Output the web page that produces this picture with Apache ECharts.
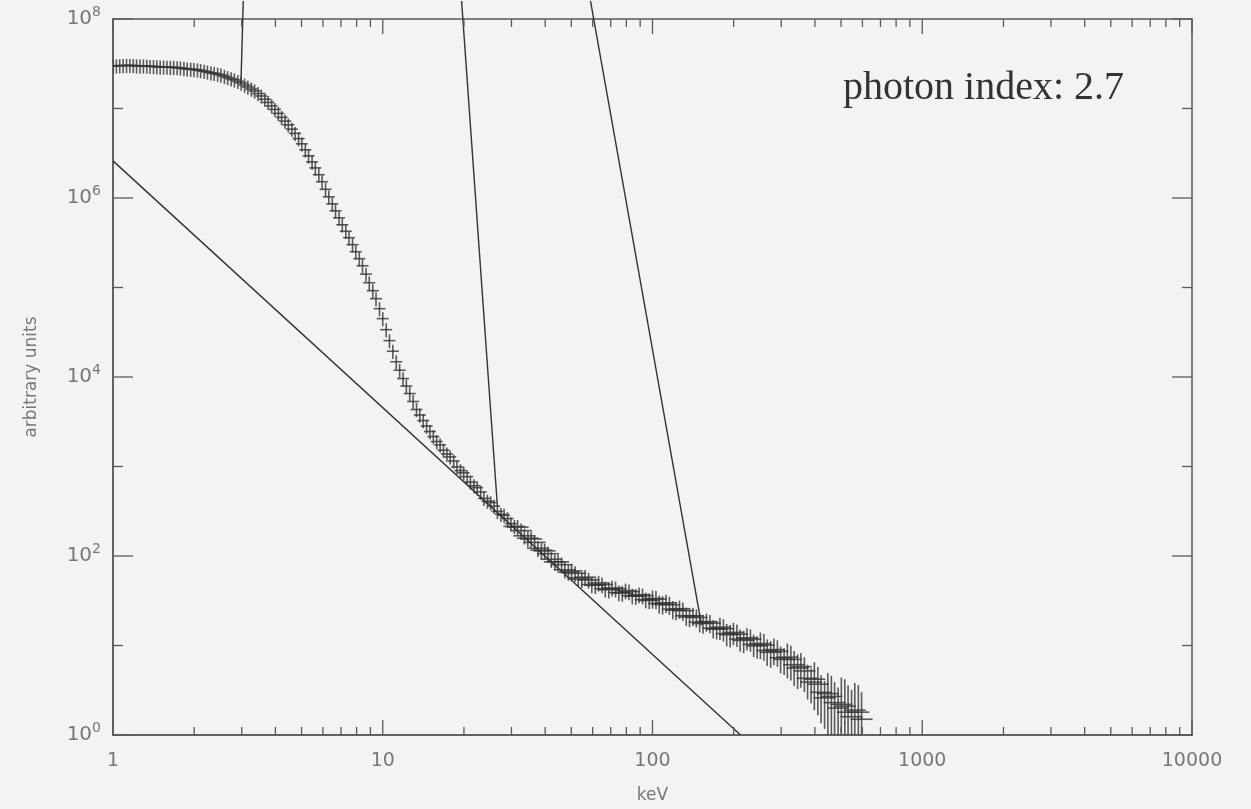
<!DOCTYPE html>
<html><head><meta charset="utf-8">
<script src="https://cdn.jsdelivr.net/npm/echarts@6/dist/echarts.min.js"></script>
<style>html,body{margin:0;padding:0;background:#f3f3f5}#c{width:1251px;height:809px}</style>
</head><body><div id="c"></div>
<script>
// energy bins (keV)
const energy = [
 1.000,1.029, 1.059,1.090, 1.122,1.155, 1.189,1.223, 1.259,1.296, 1.334,1.372,
 1.413,1.454, 1.496,1.540, 1.585,1.632, 1.679,1.729, 1.778,1.832, 1.884,1.941,
 1.995,2.056, 2.113,2.178, 2.239,2.307, 2.371,2.443, 2.512,2.588, 2.661,2.742,
 2.818,2.904, 2.985,3.076, 3.162,3.258, 3.350,3.451, 3.548,3.656, 3.758,3.873,
 3.981,4.102, 4.217,4.345, 4.467,4.603, 4.732,4.876, 5.012,5.164, 5.309,5.470,
 5.623,5.794, 5.957,6.138, 6.310,6.501, 6.683,6.887, 7.079,7.295, 7.499,7.727,
 7.943,8.185, 8.414,8.670, 8.913,9.183, 9.441,9.727, 10.00,10.30, 10.59,10.90,
 11.22,11.55, 11.89,12.23, 12.59,12.96, 13.34,13.72, 14.13,14.54, 14.96,15.40,
 15.85,16.32, 16.79,17.29, 17.78,18.32, 18.84,19.41, 19.95,20.56, 21.13,21.78,
 22.39,23.07, 23.71,24.43, 25.12,25.88, 26.61,27.42, 28.18,29.04, 29.85,30.76,
 31.62,32.58, 33.50,34.51, 35.48,36.56, 37.58,38.73, 39.81,41.02, 42.17,43.45,
 44.67,46.03, 47.32,48.76, 50.12,51.64, 53.09,54.70, 56.23,57.94, 59.57,61.38,
 63.10,65.01, 66.83,68.87, 70.79,72.95, 74.99,77.27, 79.43,81.85, 84.14,86.70,
 89.13,91.83, 94.41,97.27, 100.0,103.0, 105.9,109.0, 112.2,115.5, 118.9,122.3,
 125.9,129.6, 133.4,137.2, 141.3,145.4, 149.6,154.0, 158.5,163.2, 167.9,172.9,
 177.8,183.2, 188.4,194.1, 199.5,205.6, 211.3,217.8, 223.9,230.7, 237.1,244.3,
 251.2,258.8, 266.1,274.2, 281.8,290.4, 298.5,307.6, 316.2,325.8, 335.0,345.1,
 354.8,365.6, 375.8,387.3, 398.1,410.2, 421.7,434.5, 446.7,460.3, 473.2,487.6,
 501.2,516.4, 530.9,547.0, 562.3,579.4, 595.7
];
// spectrum (arbitrary units)
const flux = [
 2.99e7,3.00e7, 3.01e7,3.02e7, 3.03e7,3.03e7, 3.02e7,3.00e7, 2.99e7,2.99e7, 2.98e7,2.96e7,
 2.95e7,2.93e7, 2.91e7,2.91e7, 2.90e7,2.89e7, 2.88e7,2.86e7, 2.84e7,2.80e7, 2.77e7,2.75e7,
 2.73e7,2.70e7, 2.66e7,2.61e7, 2.56e7,2.51e7, 2.47e7,2.42e7, 2.37e7,2.29e7, 2.22e7,2.15e7,
 2.09e7,2.01e7, 1.93e7,1.83e7, 1.74e7,1.65e7, 1.57e7,1.47e7, 1.38e7,1.27e7, 1.17e7,1.07e7,
 9.77e6,8.82e6, 7.96e6,7.23e6, 6.56e6,5.88e6, 5.27e6,4.61e6, 4.03e6,3.45e6, 2.96e6,2.53e6,
 2.17e6,1.82e6, 1.52e6,1.25e6, 1.03e6,8.61e5, 7.19e5,6.01e5, 5.02e5,4.25e5, 3.60e5,3.01e5,
 2.51e5,2.10e5, 1.75e5,1.41e5, 1.13e5,9.21e4, 7.50e4,5.80e4, 4.49e4,3.38e4, 2.55e4,1.94e4,
 1.48e4,1.19e4, 9.60e3,7.92e3, 6.53e3,5.32e3, 4.33e3,3.76e3, 3.26e3,2.83e3, 2.46e3,2.16e3,
 1.90e3,1.74e3, 1.52e3,1.38e3, 1.28e3,1.15e3, 990,900, 850,770, 670,610,
 580,520, 440,410, 395,360, 315,292, 285,262, 230,214,
 210,192, 168,158, 155,142, 122,116, 114,106, 92,86,
 86,80, 70,66, 68,64, 57,55, 58,54, 48,47,
 50,48, 43,42, 44,43, 39,38.5, 41,40, 36,35.5,
 37,36, 32.5,31.8, 33.5,33, 29.5,28.8, 30,28.5, 25.5,24.8,
 25.8,24.5, 21.5,20.8, 21.5,20.6, 18.2,17.6, 18.5,17.8, 15.6,15.2,
 16.0,15.4, 13.6,13.2, 14.0,13.4, 11.8,11.4, 12.2,11.8, 10.3,9.9,
 10.5,10.1, 8.8,8.4, 9.0,8.6, 7.3,7.0, 7.4,7.0, 6.1,5.6,
 5.8,5.2, 4.3,3.9, 4.2,3.7, 3.0,2.6, 2.9,2.7, 2.3,2.0,
 2.2,2.1, 1.8,1.6, 1.9,1.8, 1.5
];
// fractional error of each point
const relErr = [
 0.18,0.18,0.18,0.18,0.18,0.18,0.18,0.18,0.18,0.18,0.18,0.18,
 0.18,0.18,0.18,0.18,0.18,0.18,0.18,0.18,0.18,0.18,0.18,0.18,
 0.18,0.18,0.18,0.18,0.18,0.18,0.18,0.18,0.18,0.18,0.18,0.18,
 0.18,0.18,0.18,0.18,0.18,0.18,0.18,0.18,0.18,0.18,0.18,0.18,
 0.18,0.18,0.18,0.18,0.18,0.18,0.18,0.18,0.18,0.18,0.18,0.18,
 0.18,0.18,0.18,0.18,0.18,0.18,0.18,0.18,0.18,0.18,0.18,0.18,
 0.18,0.18,0.18,0.18,0.18,0.18,0.18,0.18,0.18,0.18,0.18,0.18,
 0.18,0.18,0.18,0.18,0.18,0.18,0.18,0.18,0.18,0.18,0.18,0.18,
 0.18,0.18,0.18,0.18,0.18,0.18,0.18,0.18,0.18,0.18,0.18,0.18,
 0.18,0.18,0.18,0.18,0.18,0.18,0.18,0.18,0.18,0.18,0.18,0.18,
 0.2,0.2,0.2,0.2,0.2,0.2,0.2,0.2,0.2,0.2,0.2,0.2,
 0.2,0.2,0.2,0.2,0.2,0.2,0.2,0.2,0.2,0.2,0.2,0.2,
 0.2,0.2,0.2,0.2,0.2,0.2,0.2,0.2,0.2,0.2,0.2,0.2,
 0.2,0.2,0.2,0.2,
 0.23,0.23,0.23,0.23,0.23,0.23,0.23,0.23,0.23,0.23,0.23,0.23,
 0.23,0.23,0.23,0.23,0.23,0.23,0.23,0.23,
 0.28,0.28,0.28,0.28,0.28,0.28,0.28,0.28,0.28,0.28,0.28,0.28,
 0.33,0.33,0.33,0.33,0.33,0.33,0.33,0.33,
 0.42,0.42,0.42,0.42,0.42,0.42,0.42,0.42,
 0.55,0.55,0.55,0.55, 0.7,0.7,0.7,0.7,
 1.0,1.0,1.0,1.0,1.0,1.0,1.0
];
// power law, photon index 2.7
const powerLaw = [[1, 2.6e6], [212, 1]];
// pointer lines running off the top of the frame
const pointer1 = [[3.04, 1.59e8], [2.98, 1.88e7]];
const pointer2 = [[19.6, 1.59e8], [26.6, 367]];
const pointer3 = [[58.9, 1.59e8], [152, 16.8]];
// axis ticks
const xMajorTicks = [1, 10, 100, 1000, 10000];
const xMinorTicks = [2,3,4,5,6,7,8,9,20,30,40,50,60,70,80,90,200,300,400,500,600,700,800,900,2000,3000,4000,5000,6000,7000,8000,9000];
const yMajorTicks = [1, 1e2, 1e4, 1e6, 1e8];
const yMinorTicks = [10, 1e3, 1e5, 1e7];
const annotation = 'photon index: 2.7';

const AX = '#5a5a5a';
const chart = echarts.init(document.getElementById('c'));

function xTicks(len) {
  return function (params, api) {
    const cs = params.coordSys;
    const x = api.coord([api.value(0), 1])[0];
    const b = cs.y + cs.height, t = cs.y;
    return { type: 'group', children: [
      { type: 'line', shape: { x1: x, y1: b, x2: x, y2: b - len }, style: { stroke: AX, lineWidth: 1.3 } },
      { type: 'line', shape: { x1: x, y1: t, x2: x, y2: t + len }, style: { stroke: AX, lineWidth: 1.3 } }
    ]};
  };
}
function yTicks(len) {
  return function (params, api) {
    const cs = params.coordSys;
    const y = api.coord([1, api.value(1)])[1];
    const l = cs.x, r = cs.x + cs.width;
    return { type: 'group', children: [
      { type: 'line', shape: { x1: l, y1: y, x2: l + len, y2: y }, style: { stroke: AX, lineWidth: 1.3 } },
      { type: 'line', shape: { x1: r, y1: y, x2: r - len, y2: y }, style: { stroke: AX, lineWidth: 1.3 } }
    ]};
  };
}
function crossRender(params, api) {
  const cs = params.coordSys;
  const e = api.value(0), v = api.value(1), r = api.value(2);
  const c = api.coord([e, v]);
  const top = api.coord([e, v * (1 + r)])[1];
  const lo = v * (1 - r);
  const bottom = Math.min(lo > 0 ? api.coord([e, lo])[1] : cs.y + cs.height, cs.y + cs.height);
  const hw = e < 30 ? 6 : 11;
  const st = { stroke: '#333', lineWidth: 1.6, opacity: 0.8 };
  return { type: 'group', children: [
    { type: 'line', shape: { x1: c[0] - hw, y1: c[1], x2: c[0] + hw, y2: c[1] }, style: st },
    { type: 'line', shape: { x1: c[0], y1: top, x2: c[0], y2: bottom }, style: st }
  ]};
}

function lineSeries(data) {
  return { type: 'line', data: data, symbol: 'none', clip: false, silent: true,
    lineStyle: { color: '#333', width: 1.4 }, z: 3 };
}

chart.setOption({
  backgroundColor: '#f3f3f5',
  animation: false,
  grid: { left: 113, right: 59, top: 19, bottom: 74, show: true, borderColor: AX, borderWidth: 1.5 },
  xAxis: {
    type: 'log', logBase: 10, min: 1, max: 10000, interval: 1,
    name: 'keV', nameLocation: 'middle', nameGap: 52,
    nameTextStyle: { fontFamily: 'DejaVu Sans', fontSize: 17, color: '#777' },
    axisLine: { show: true, lineStyle: { color: AX, width: 1.5 } },
    axisTick: { show: false }, splitLine: { show: false },
    axisLabel: { margin: 17, fontFamily: 'DejaVu Sans', fontSize: 19, color: '#777',
      formatter: v => String(Math.round(v)) }
  },
  yAxis: {
    type: 'log', logBase: 10, min: 1, max: 1e8, interval: 1,
    name: 'arbitrary units', nameLocation: 'middle', nameGap: 73, nameRotate: 90,
    nameTextStyle: { fontFamily: 'DejaVu Sans', fontSize: 17, color: '#777' },
    axisLine: { show: true, lineStyle: { color: AX, width: 1.5 } },
    axisTick: { show: false }, splitLine: { show: false },
    axisLabel: { margin: 12, color: '#777',
      formatter: v => { const e = Math.round(Math.log10(v)); return e % 2 ? '' : '{b|10}{e|' + e + '}'; },
      rich: {
        b: { fontFamily: 'DejaVu Sans', fontSize: 20, color: '#777' },
        e: { fontFamily: 'DejaVu Sans', fontSize: 14, color: '#777', padding: [0, 0, 13, 0] }
      }
    }
  },
  graphic: [{
    type: 'text', left: 843, top: 68, silent: true,
    style: { text: annotation, font: '40px "Liberation Serif"', fill: '#333' }
  }],
  series: [
    { type: 'custom', renderItem: xTicks(15), data: xMajorTicks.map(v => [v, 1]), silent: true, z: 5 },
    { type: 'custom', renderItem: xTicks(8), data: xMinorTicks.map(v => [v, 1]), silent: true, z: 5 },
    { type: 'custom', renderItem: yTicks(20), data: yMajorTicks.map(v => [1, v]), silent: true, z: 5 },
    { type: 'custom', renderItem: yTicks(10), data: yMinorTicks.map(v => [1, v]), silent: true, z: 5 },
    { type: 'custom', renderItem: crossRender, clip: true, silent: true, z: 4,
      data: energy.map((e, i) => [e, flux[i], relErr[i]]) },
    lineSeries(powerLaw),
    lineSeries(pointer1),
    lineSeries(pointer2),
    lineSeries(pointer3)
  ]
});
</script></body></html>
